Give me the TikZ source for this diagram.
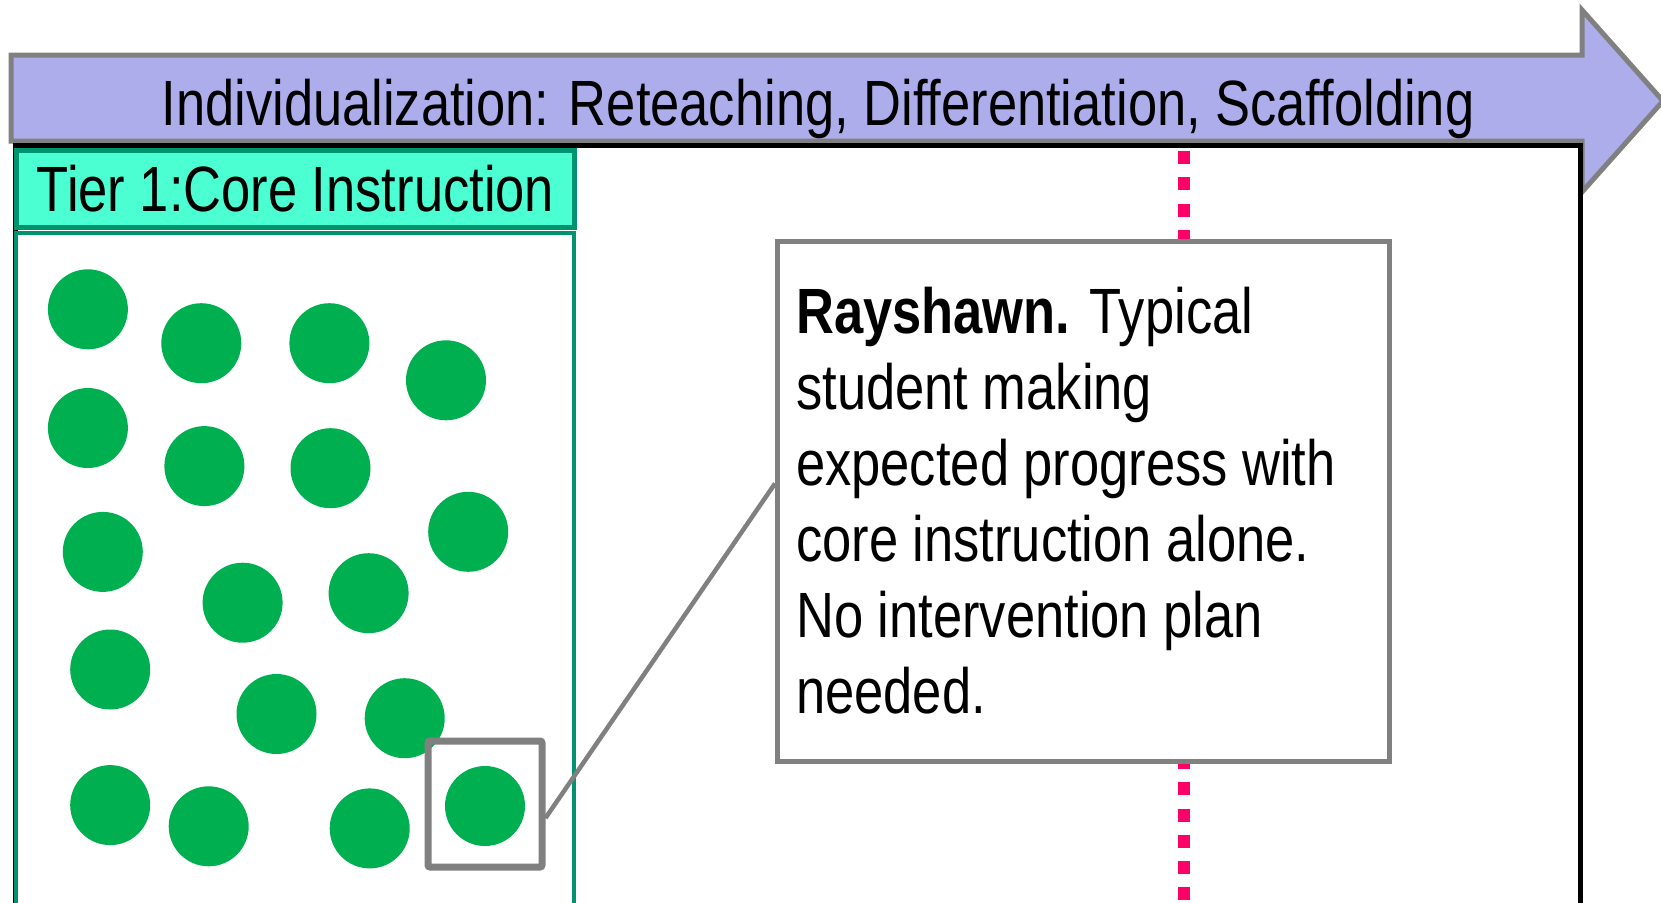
\documentclass[tikz,border=0pt]{standalone}
\usepackage{fontspec}
\setmainfont{Liberation Sans}[FakeStretch=0.82]
\definecolor{lav}{HTML}{ADADEB}
\definecolor{aqua}{HTML}{4BFFD2}
\definecolor{tealx}{HTML}{00936F}
\definecolor{dotgreen}{HTML}{00B050}
\definecolor{pinkx}{HTML}{FF0066}
\definecolor{grayx}{HTML}{808080}
\begin{document}
\begin{tikzpicture}[x=1pt,y=-1pt,
  student/.style={circle, fill=dotgreen, minimum size=80pt, inner sep=0pt},
  bigfont/.style={font=\fontsize{64}{76}\selectfont},
  frame/.style={draw=black, line width=5pt, minimum width=1565pt, minimum height=800pt, anchor=north west, inner sep=0pt},
  tierlabel/.style={draw=tealx, fill=aqua, line width=5pt, minimum width=558pt, minimum height=77pt, anchor=north west, inner sep=0pt},
  tierbox/.style={draw=tealx, line width=4pt, minimum width=558pt, minimum height=720pt, anchor=north west, inner sep=0pt},
  focus/.style={draw=grayx, line width=7pt, rounded corners=2pt, minimum width=114pt, minimum height=126pt, inner sep=0pt},
  callout/.style={draw=grayx, fill=white, line width=5pt, minimum width=612pt, minimum height=520pt, anchor=north west, inner sep=0pt},
  dotline/.style={pinkx, line width=12pt, dash pattern=on 13pt off 13.3pt},
  leader/.style={grayx, line width=4.5pt}
]
\useasboundingbox (0,0) rectangle (1661,902);

% big arrow
\draw[fill=lav, draw=grayx, line width=5pt, line join=miter]
  (11,55) -- (1582,55) -- (1582,10) -- (1663,101) -- (1582,192) -- (1582,141) -- (11,141) -- cycle;
\node[bigfont, anchor=base] (hdr) at (818,125) {Individualization: Reteaching, Differentiation, Scaffolding};

% main frame
\node[frame] (main) at (13,143) {};

% tier 1
\node[tierlabel, bigfont] (tier) at (14,148) {Tier 1:Core Instruction};
\node[tierbox] (grp) at (14,231) {};

% students
\node[student] (s1) at (87.9,309.3) {};
\node[student] (s2) at (201.3,343.2) {};
\node[student] (s3) at (329.4,343.2) {};
\node[student] (s4) at (446.0,380.3) {};
\node[student] (s5) at (87.9,428.0) {};
\node[student] (s6) at (204.4,466.1) {};
\node[student] (s7) at (330.5,468.2) {};
\node[student] (s8) at (102.8,551.9) {};
\node[student] (s9) at (468.2,531.8) {};
\node[student] (s10) at (242.6,602.7) {};
\node[student] (s11) at (368.6,593.2) {};
\node[student] (s12) at (110.2,669.5) {};
\node[student] (s13) at (276.5,714.0) {};
\node[student] (s14) at (404.7,718.2) {};
\node[student] (s15) at (110.2,805.1) {};
\node[student] (s16) at (208.7,826.3) {};
\node[student] (s17) at (369.7,828.4) {};
\node[student] (s18) at (485,806) {};

% highlight square
\node[focus] (sq) at (485,804) {};

% pink dotted divider
\coordinate (pt) at (1184,151);
\coordinate (pb) at (1184,912);
\draw[dotline] (pt) -- (pb);

% callout
\node[callout] (tb) at (775,239) {};
\draw[leader] ([yshift=-14pt]sq.east) -- ([yshift=18pt]tb.west);
\node[bigfont, anchor=north west, inner sep=0pt, align=left] (desc) at (796,287)
  {\textbf{Rayshawn.} Typical\\student making\\expected progress with\\core instruction alone.\\No intervention plan\\needed.};
\end{tikzpicture}
\end{document}
